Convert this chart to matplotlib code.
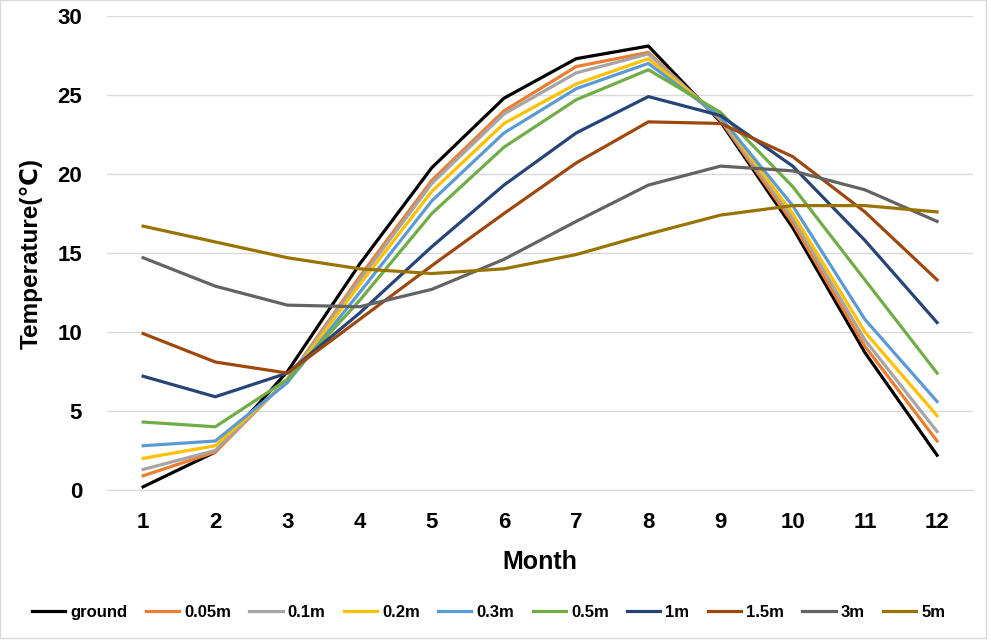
import matplotlib.pyplot as plt
from matplotlib.patches import Rectangle

plt.rcParams['font.family'] = ['Liberation Sans', 'DejaVu Sans']

months = [1, 2, 3, 4, 5, 6, 7, 8, 9, 10, 11, 12]
labels = ['ground', '0.05m', '0.1m', '0.2m', '0.3m', '0.5m', '1m', '1.5m', '3m', '5m']

ground = [0.2, 2.4, 7.5, 14.3, 20.4, 24.8, 27.3, 28.1, 23.3, 16.6, 8.7, 2.2]
d005 = [0.9, 2.4, 7.0, 13.5, 19.6, 24.0, 26.8, 27.7, 23.4, 16.9, 9.1, 3.1]
d01 = [1.3, 2.5, 7.0, 13.3, 19.4, 23.8, 26.4, 27.6, 23.5, 17.2, 9.5, 3.7]
d02 = [2.0, 2.8, 6.9, 13.0, 18.9, 23.2, 25.7, 27.3, 23.6, 17.5, 10.0, 4.7]
d03 = [2.8, 3.1, 6.8, 12.5, 18.3, 22.6, 25.4, 27.0, 23.6, 18.0, 10.8, 5.6]
d05 = [4.3, 4.0, 7.0, 12.0, 17.5, 21.7, 24.7, 26.6, 23.9, 19.2, 13.3, 7.4]
d1 = [7.2, 5.9, 7.4, 11.2, 15.4, 19.3, 22.6, 24.9, 23.7, 20.5, 15.8, 10.6]
d15 = [9.9, 8.1, 7.4, 10.8, 14.2, 17.5, 20.7, 23.3, 23.2, 21.1, 17.6, 13.3]
d3 = [14.7, 12.9, 11.7, 11.6, 12.7, 14.6, 17.0, 19.3, 20.5, 20.2, 19.0, 17.0]
d5 = [16.7, 15.7, 14.7, 14.0, 13.7, 14.0, 14.9, 16.2, 17.4, 18.0, 18.0, 17.6]

series = [ground, d005, d01, d02, d03, d05, d1, d15, d3, d5]
colors = ['#000000', '#ED7D31', '#A5A5A5', '#FFC000', '#5B9BD5',
          '#70AD47', '#264478', '#9E480E', '#636363', '#997300']

fig = plt.figure(figsize=(9.91, 6.41), dpi=100)
ax = fig.add_axes([0.108, 0.2356, 0.874, 0.7394])

for vals, lab, c in zip(series, labels, colors):
    ax.plot(months, vals, color=c, linewidth=2.3, label=lab)

ax.set_xlim(0.5, 12.5)
ax.set_ylim(0, 30)
ax.set_xticks(months)
ax.set_yticks(range(0, 31, 5))
ax.grid(True, axis='y', color='#d9d9d9', linewidth=1)
ax.set_axisbelow(True)
for s in ['top', 'right', 'left']:
    ax.spines[s].set_visible(False)
ax.spines['bottom'].set_color('#d9d9d9')
ax.tick_params(length=0, labelsize=16)
ax.tick_params(axis='x', pad=16)
ax.tick_params(axis='y', pad=18)
for t in ax.get_xticklabels() + ax.get_yticklabels():
    t.set_fontweight('bold')

ax.set_xlabel('Month', fontsize=18, fontweight='bold', va='center')
ax.xaxis.set_label_coords(0.5, -0.152)
ax.set_ylabel('Temperature(℃)', fontsize=17.5, fontweight='bold', va='center')
ax.yaxis.set_label_coords(-0.0878, 0.5)

leg = fig.legend(loc='center', bbox_to_anchor=(0.493, 0.045), ncol=10, frameon=False,
                 prop={'weight': 'bold', 'size': 12}, handlelength=2.0,
                 columnspacing=1.1, handletextpad=0.3)

fig.patches.append(Rectangle((0, 0.005), 0.995, 0.995, transform=fig.transFigure,
                             fill=False, edgecolor='#d9d9d9', linewidth=1))

plt.savefig('out.png', dpi=100)
